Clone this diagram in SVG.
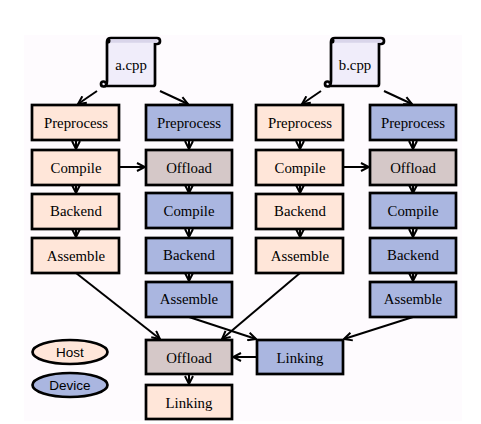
<svg xmlns="http://www.w3.org/2000/svg" width="481" height="424" viewBox="0 0 481 424">
<style>
text{font-family:"Liberation Serif",serif;font-size:14.8px;fill:#000;text-anchor:middle}
.s{font-family:"Liberation Sans",sans-serif;font-size:13.5px}
.b{stroke:#000;stroke-width:2.7}
.h{fill:#ffe6d9}.d{fill:#aab6e0}.o{fill:#d5c8c8}
.c{fill:none;stroke:#000;stroke-width:2;marker-end:url(#a)}
</style>
<defs>
<marker id="a" viewBox="0 0 10 10" refX="9" refY="5" markerWidth="10" markerHeight="10" markerUnits="userSpaceOnUse" orient="auto"><path d="M1 1L9 5L1 9" fill="none" stroke="#000" stroke-width="2"/></marker>
<g id="scroll">
<path d="M7 44V5Q7 1 11 1H57Q60 1 60 4Q60 7 57 7H55V47Q55 49 53 49H3" fill="#f0edfa" stroke="#000" stroke-width="2.7"/>
<path d="M7 44Q7 49.500 3.500 49.500Q1 49.500 1 47Q1 44.500 3.500 44.500Q5.500 44.500 5.500 46.500" fill="#f0edfa" stroke="#000" stroke-width="2.7"/>
<path d="M10 4H57" stroke="#d9d5ea" stroke-width="3.500"/>
<path d="M7 7V3Q7 1 10 1Q11 4 10 6Z" fill="#000"/>
</g>
</defs>
<rect width="481" height="424" fill="#fff"/>
<rect x="24" y="35" width="438" height="386" fill="#fefbfe"/>
<g id="connectors">
<path class="c" d="M97 91L78 104"/><path class="c" d="M160 91L188 104"/>
<path class="c" d="M321 91L302 104"/><path class="c" d="M384 91L412 104"/>
<path class="c" d="M76 140V149"/><path class="c" d="M76 185V193"/><path class="c" d="M76 229V237"/>
<path class="c" d="M189 140V149"/><path class="c" d="M189 185V193"/><path class="c" d="M189 229V237"/><path class="c" d="M189 273V281"/>
<path class="c" d="M300 140V149"/><path class="c" d="M300 185V193"/><path class="c" d="M300 229V237"/>
<path class="c" d="M413 140V149"/><path class="c" d="M413 185V193"/><path class="c" d="M413 229V237"/><path class="c" d="M413 273V281"/>
<path class="c" d="M120 167H145"/><path class="c" d="M344 167H369"/>
<path class="c" d="M76 273L160 339"/><path class="c" d="M300 273L222 339"/>
<path class="c" d="M189 317L256 339"/><path class="c" d="M413 317L344 339"/>
<path class="c" d="M256 357H233"/><path class="c" d="M189 375V384"/>
</g>
<g id="scroll-a"><use href="#scroll" x="100" y="37"/><text x="131" y="70">a.cpp</text></g>
<g id="scroll-b"><use href="#scroll" x="324" y="37"/><text x="355" y="70">b.cpp</text></g>
<g id="a-pre-host"><rect class="b h" x="32" y="105" width="87" height="35"/><text x="76" y="128">Preprocess</text></g>
<g id="a-comp-host"><rect class="b h" x="32" y="150" width="87" height="35"/><text x="76" y="173">Compile</text></g>
<g id="a-back-host"><rect class="b h" x="32" y="194" width="87" height="35"/><text x="76" y="216">Backend</text></g>
<g id="a-asm-host"><rect class="b h" x="32" y="238" width="87" height="35"/><text x="76" y="261">Assemble</text></g>
<g id="a-pre-dev"><rect class="b d" x="146" y="105" width="86" height="35"/><text x="189" y="128">Preprocess</text></g>
<g id="a-off-dev"><rect class="b o" x="146" y="150" width="86" height="35"/><text x="189" y="173">Offload</text></g>
<g id="a-comp-dev"><rect class="b d" x="146" y="193" width="86" height="35"/><text x="189" y="216">Compile</text></g>
<g id="a-back-dev"><rect class="b d" x="146" y="238" width="86" height="35"/><text x="189" y="260">Backend</text></g>
<g id="a-asm-dev"><rect class="b d" x="146" y="282" width="86" height="35"/><text x="189" y="304">Assemble</text></g>
<g id="b-pre-host"><rect class="b h" x="256" y="105" width="87" height="35"/><text x="300" y="128">Preprocess</text></g>
<g id="b-comp-host"><rect class="b h" x="256" y="150" width="87" height="35"/><text x="300" y="173">Compile</text></g>
<g id="b-back-host"><rect class="b h" x="256" y="194" width="87" height="35"/><text x="300" y="216">Backend</text></g>
<g id="b-asm-host"><rect class="b h" x="256" y="238" width="87" height="35"/><text x="300" y="261">Assemble</text></g>
<g id="b-pre-dev"><rect class="b d" x="370" y="105" width="86" height="35"/><text x="413" y="128">Preprocess</text></g>
<g id="b-off-dev"><rect class="b o" x="370" y="150" width="86" height="35"/><text x="413" y="173">Offload</text></g>
<g id="b-comp-dev"><rect class="b d" x="370" y="193" width="86" height="35"/><text x="413" y="216">Compile</text></g>
<g id="b-back-dev"><rect class="b d" x="370" y="238" width="86" height="35"/><text x="413" y="260">Backend</text></g>
<g id="b-asm-dev"><rect class="b d" x="370" y="282" width="86" height="35"/><text x="413" y="304">Assemble</text></g>
<g id="offload"><rect class="b o" x="146" y="340" width="86" height="34"/><text x="189" y="363">Offload</text></g>
<g id="link-dev"><rect class="b d" x="257" y="340" width="86" height="34"/><text x="300" y="363">Linking</text></g>
<g id="link-host"><rect class="b h" x="146" y="385" width="86" height="34"/><text x="189" y="408">Linking</text></g>
<g id="legend-host"><ellipse class="b h" cx="70" cy="352" rx="37.5" ry="12"/><text class="s" x="70" y="357">Host</text></g>
<g id="legend-device"><ellipse class="b d" cx="70" cy="385" rx="37.5" ry="12"/><text class="s" x="70" y="390">Device</text></g>
</svg>
